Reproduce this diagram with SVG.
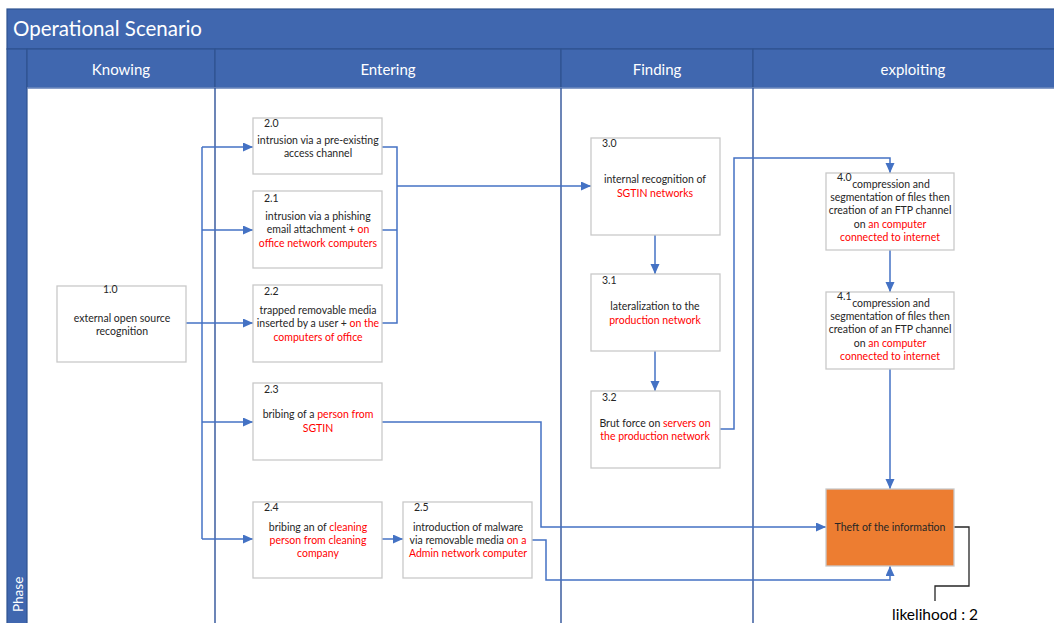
<svg xmlns="http://www.w3.org/2000/svg" width="1054" height="623" viewBox="0 0 1054 623">
  <style>
    .band { fill: #4067AF; stroke: #2F5390; stroke-width: 1.2; }
    .lane { stroke: #3B5C9F; stroke-width: 1.5; fill: none; }
    .hdr { font-family: Lato, "Liberation Sans", sans-serif; fill: #FFFFFF; }
    .box { fill: #FFFFFF; stroke: #C9C9C9; stroke-width: 1.3; }
    .t { font-family: Lato, "Liberation Sans", sans-serif; font-size: 10.5px; fill: #262626; text-anchor: middle; }
    .num { font-family: Lato, "Liberation Sans", sans-serif; font-size: 10.5px; fill: #262626; }
    .r { fill: #FF0000; }
    .wire { stroke: #4472C4; stroke-width: 1.5; fill: none; }
    .wire-a { stroke: #4472C4; stroke-width: 1.5; fill: none; marker-end: url(#arr); }
  </style>
  <defs>
    <marker id="arr" markerUnits="userSpaceOnUse" markerWidth="11" markerHeight="10" refX="10" refY="4.5" orient="auto">
      <path d="M0,0 L10,4.5 L0,9 Z" fill="#4472C4"/>
    </marker>
  </defs>

  <rect width="1054" height="623" fill="#FFFFFF"/>

  <!-- swimlane frame -->
  <g id="frame">
    <rect class="band" x="7" y="9" width="1060" height="40"/>
    <rect class="band" x="7" y="49" width="20" height="580"/>
    <rect class="band" x="27" y="49" width="188" height="39"/>
    <rect class="band" x="215" y="49" width="346" height="39"/>
    <rect class="band" x="561" y="49" width="192" height="39"/>
    <rect class="band" x="753" y="49" width="320" height="39"/>
    <line x1="27" y1="88" x2="1054" y2="88" stroke="#8EA6D6" stroke-width="1"/>
    <line class="lane" x1="215" y1="88" x2="215" y2="623"/>
    <line class="lane" x1="561" y1="88" x2="561" y2="623"/>
    <line class="lane" x1="753" y1="88" x2="753" y2="623"/>
    <text class="hdr" x="13" y="36" font-size="20.5">Operational Scenario</text>
    <text class="hdr" x="121" y="75" font-size="15" text-anchor="middle">Knowing</text>
    <text class="hdr" x="388" y="75" font-size="15" text-anchor="middle">Entering</text>
    <text class="hdr" x="657" y="75" font-size="15" text-anchor="middle">Finding</text>
    <text class="hdr" x="913" y="75" font-size="15" text-anchor="middle">exploiting</text>
    <text class="hdr" transform="translate(23 612) rotate(-90)" font-size="13.5">Phase</text>
  </g>

  <!-- connectors -->
  <g id="connectors">
    <path class="wire" d="M186,323 H202"/>
    <path class="wire" d="M202,147 V539"/>
    <path class="wire-a" d="M202,147 H253"/>
    <path class="wire-a" d="M202,230 H253"/>
    <path class="wire-a" d="M202,323 H253"/>
    <path class="wire-a" d="M202,422 H253"/>
    <path class="wire-a" d="M202,539 H253"/>
    <path class="wire" d="M382,147 H397 V323 H382"/>
    <path class="wire" d="M382,230 H397"/>
    <path class="wire-a" d="M397,186 H591"/>
    <path class="wire-a" d="M655,235 V274"/>
    <path class="wire-a" d="M655,351 V391"/>
    <path class="wire-a" d="M720,429 H734 V158 H890 V173"/>
    <path class="wire-a" d="M890,250 V292"/>
    <path class="wire-a" d="M890,369 V489"/>
    <path class="wire-a" d="M382,422 H541 V527 H826"/>
    <path class="wire-a" d="M382,539 H403"/>
    <path class="wire-a" d="M532,540 H546 V580 H890 V566"/>
    <path d="M954,527 H969 V586 H935 V601" stroke="#262626" stroke-width="1.3" fill="none"/>
  </g>

  <!-- nodes -->
  <g id="n1-0">
    <rect class="box" x="57" y="286" width="129" height="76"/>
    <text class="num" x="103" y="293">1.0</text>
    <text class="t" x="122" y="322">external open source</text>
    <text class="t" x="122" y="335">recognition</text>
  </g>
  <g id="n2-0">
    <rect class="box" x="253" y="118" width="129" height="56"/>
    <text class="num" x="264" y="127">2.0</text>
    <text class="t" x="318" y="144">intrusion via a pre-existing</text>
    <text class="t" x="318" y="157">access channel</text>
  </g>
  <g id="n2-1">
    <rect class="box" x="253" y="191" width="129" height="77"/>
    <text class="num" x="264" y="202">2.1</text>
    <text class="t" x="318" y="220">intrusion via a phishing</text>
    <text class="t" x="318" y="233">email attachment + <tspan class="r">on</tspan></text>
    <text class="t" x="318" y="247"><tspan class="r">office network computers</tspan></text>
  </g>
  <g id="n2-2">
    <rect class="box" x="253" y="285" width="129" height="77"/>
    <text class="num" x="264" y="295">2.2</text>
    <text class="t" x="318" y="314">trapped removable media</text>
    <text class="t" x="318" y="327">inserted by a user + <tspan class="r">on the</tspan></text>
    <text class="t" x="318" y="341"><tspan class="r">computers of office</tspan></text>
  </g>
  <g id="n2-3">
    <rect class="box" x="253" y="383" width="129" height="77"/>
    <text class="num" x="264" y="393">2.3</text>
    <text class="t" x="318" y="418">bribing of a <tspan class="r">person from</tspan></text>
    <text class="t" x="318" y="432"><tspan class="r">SGTIN</tspan></text>
  </g>
  <g id="n2-4">
    <rect class="box" x="253" y="502" width="129" height="76"/>
    <text class="num" x="264" y="511">2.4</text>
    <text class="t" x="318" y="531">bribing an of <tspan class="r">cleaning</tspan></text>
    <text class="t" x="318" y="544"><tspan class="r">person from cleaning</tspan></text>
    <text class="t" x="318" y="557"><tspan class="r">company</tspan></text>
  </g>
  <g id="n2-5">
    <rect class="box" x="403" y="502" width="129" height="76"/>
    <text class="num" x="414" y="511">2.5</text>
    <text class="t" x="468" y="531">introduction of malware</text>
    <text class="t" x="468" y="544">via removable media <tspan class="r">on a</tspan></text>
    <text class="t" x="468" y="557"><tspan class="r">Admin network computer</tspan></text>
  </g>
  <g id="n3-0">
    <rect class="box" x="591" y="138" width="129" height="97"/>
    <text class="num" x="602" y="147">3.0</text>
    <text class="t" x="655" y="183">internal recognition of</text>
    <text class="t" x="655" y="197"><tspan class="r">SGTIN networks</tspan></text>
  </g>
  <g id="n3-1">
    <rect class="box" x="591" y="274" width="129" height="77"/>
    <text class="num" x="602" y="284">3.1</text>
    <text class="t" x="655" y="310">lateralization to the</text>
    <text class="t" x="655" y="324"><tspan class="r">production network</tspan></text>
  </g>
  <g id="n3-2">
    <rect class="box" x="591" y="391" width="129" height="77"/>
    <text class="num" x="602" y="401">3.2</text>
    <text class="t" x="655" y="427">Brut force on <tspan class="r">servers on</tspan></text>
    <text class="t" x="655" y="440"><tspan class="r">the production network</tspan></text>
  </g>
  <g id="n4-0">
    <rect class="box" x="826" y="173" width="128" height="77"/>
    <text class="num" x="837" y="181" font-size="9.5">4.0</text>
    <text class="t" x="891" y="188">compression and</text>
    <text class="t" x="890" y="201">segmentation of files then</text>
    <text class="t" x="890" y="214">creation of an FTP channel</text>
    <text class="t" x="890" y="228">on <tspan class="r">an computer</tspan></text>
    <text class="t" x="890" y="241"><tspan class="r">connected to internet</tspan></text>
  </g>
  <g id="n4-1">
    <rect class="box" x="826" y="292" width="128" height="77"/>
    <text class="num" x="837" y="300" font-size="9.5">4.1</text>
    <text class="t" x="891" y="307">compression and</text>
    <text class="t" x="890" y="320">segmentation of files then</text>
    <text class="t" x="890" y="333">creation of an FTP channel</text>
    <text class="t" x="890" y="347">on <tspan class="r">an computer</tspan></text>
    <text class="t" x="890" y="360"><tspan class="r">connected to internet</tspan></text>
  </g>
  <g id="theft">
    <rect x="826" y="489" width="128" height="77" fill="#ED7D31" stroke="#C9C9C9" stroke-width="1.3"/>
    <text class="t" x="890" y="531">Theft of the information</text>
  </g>
  <g id="likelihood">
    <text x="892" y="620" font-family="Lato, 'Liberation Sans', sans-serif" font-size="15.5" fill="#000000">likelihood : 2</text>
  </g>
</svg>
